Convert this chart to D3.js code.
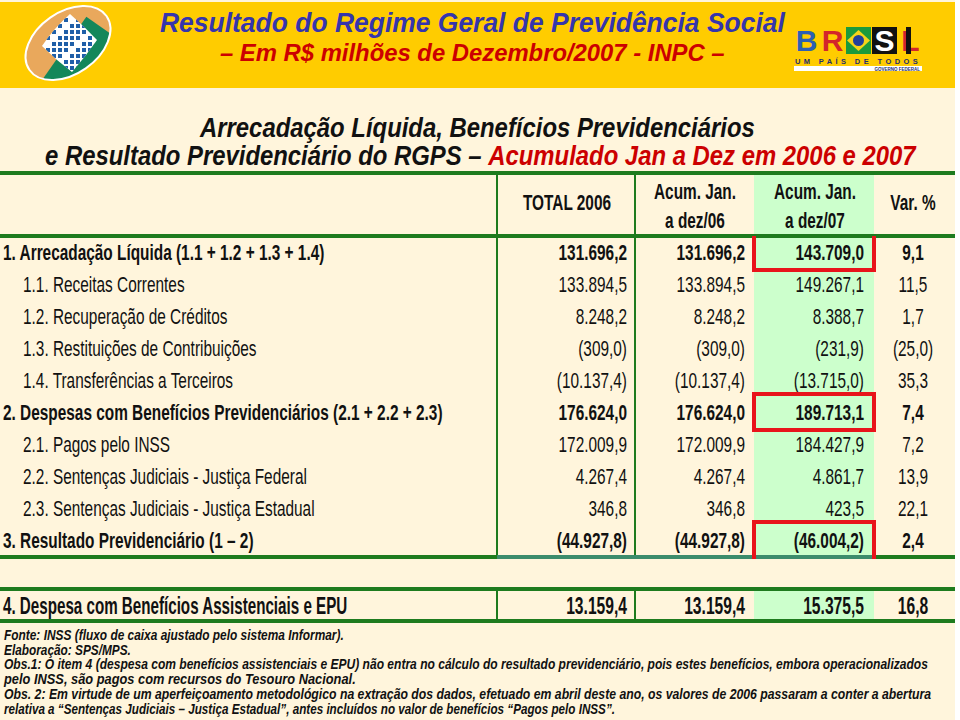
<!DOCTYPE html>
<html>
<head>
<meta charset="utf-8">
<script src="https://cdn.jsdelivr.net/npm/d3@7"></script>
<style>
body { margin: 0; background: #fff; }
svg { display: block; font-family: "Liberation Sans", Arial, sans-serif; }
</style>
</head>
<body>
<script>
var w = 960;
var h = 720;

// table data (R$ milhões de Dez/2007 - INPC)
var rowLabels = [
    "1. Arrecadação Líquida (1.1 + 1.2 + 1.3 + 1.4)",
    "1.1. Receitas Correntes",
    "1.2. Recuperação de Créditos",
    "1.3. Restituições de Contribuições",
    "1.4. Transferências a Terceiros",
    "2. Despesas com Benefícios Previdenciários (2.1 + 2.2 + 2.3)",
    "2.1. Pagos pelo INSS",
    "2.2. Sentenças Judiciais - Justiça Federal",
    "2.3. Sentenças Judiciais - Justiça Estadual",
    "3. Resultado Previdenciário (1 – 2)"
];
var rowLevel = [0, 1, 1, 1, 1, 0, 1, 1, 1, 0];
var total2006 = [131696.2, 133894.5, 8248.2, -309.0, -10137.4, 176624.0, 172009.9, 4267.4, 346.8, -44927.8];
var acum06 = [131696.2, 133894.5, 8248.2, -309.0, -10137.4, 176624.0, 172009.9, 4267.4, 346.8, -44927.8];
var acum07 = [143709.0, 149267.1, 8388.7, -231.9, -13715.0, 189713.1, 184427.9, 4861.7, 423.5, -46004.2];
var varPct = [9.1, 11.5, 1.7, -25.0, 35.3, 7.4, 7.2, 13.9, 22.1, 2.4];
var highlighted = [0, 5, 9];

var epuLabel = "4. Despesa com Benefícios Assistenciais e EPU";
var epuTotal2006 = 13159.4;
var epuAcum06 = 13159.4;
var epuAcum07 = 15375.5;
var epuVar = 16.8;

var colKeys = ["total2006", "acum06", "acum07", "var"];
var colHeaders = [["TOTAL 2006"], ["Acum. Jan.", "a dez/06"], ["Acum. Jan.", "a dez/07"], ["Var. %"]];

var footnotes = [
    "Fonte: INSS (fluxo de caixa ajustado pelo sistema Informar).",
    "Elaboração: SPS/MPS.",
    "Obs.1: O item 4 (despesa com benefícios assistenciais e EPU) não entra no cálculo do resultado previdenciário, pois estes benefícios, embora operacionalizados",
    "pelo INSS, são pagos com recursos do Tesouro Nacional.",
    "Obs. 2: Em virtude de um aperfeiçoamento metodológico na extração dos dados, efetuado em abril deste ano, os valores de 2006 passaram a conter a abertura",
    "relativa a “Sentenças Judiciais – Justiça Estadual”, antes incluídos no valor de benefícios “Pagos pelo INSS”."
];
var footWidths = [340, 127, 925, 352, 928, 612];

var green = "#1E7B1E";
var red = "#E8141B";
var sx = 0.7; // condensed look

var br = d3.formatLocale({decimal: ",", thousands: ".", grouping: [3], currency: ["R$", ""]});
var f1 = br.format(",.1f");
function fmt(v) {
    return v < 0 ? "(" + f1(-v) + ")" : f1(v);
}

var svg = d3.select("body").append("svg").attr("width", w).attr("height", h);

// backgrounds
svg.append("rect").attr("x", 0).attr("y", 0).attr("width", 955).attr("height", h).attr("fill", "#FFF5DC");
svg.append("rect").attr("x", 0).attr("y", 2).attr("width", 955).attr("height", 86).attr("fill", "#FFCC00");

// scales
var y = d3.scalePoint().domain(d3.range(rowLabels.length)).range([252, 540]);
var xCol = d3.scaleOrdinal().domain(colKeys).range([627, 745, 864, 913]);
var xHead = d3.scaleOrdinal().domain(colKeys).range([567, 695, 815, 913]);
var edges = [497, 635, 754, 874, 955];

function txt(g, x, yy, s, size, weight, anchor, scale) {
    return g.append("text")
        .attr("transform", "translate(" + x + "," + yy + ") scale(" + (scale || sx) + ",1)")
        .attr("font-size", size)
        .attr("font-weight", weight || "normal")
        .attr("text-anchor", anchor || "start")
        .attr("fill", "#111")
        .text(s);
}

// stretch a text so it spans a given width
function fit(t, x, yy, width) {
    var len = t.node().getComputedTextLength();
    t.attr("transform", "translate(" + x + "," + yy + ") scale(" + (width / len) + ",1)");
    return t;
}

// ---------- header ----------
var title = svg.append("text").attr("font-size", 28).attr("font-weight", "bold").attr("font-style", "italic")
    .attr("fill", "#3535AD").text("Resultado do Regime Geral de Previdência Social");
fit(title, 160, 32, 625);
var sub = svg.append("text").attr("font-size", 24).attr("font-weight", "bold").attr("font-style", "italic")
    .attr("fill", "#CC0000").text("– Em R$ milhões de Dezembro/2007 - INPC –");
fit(sub, 220, 61, 505);

// INSS logo
var defs = svg.append("defs");
defs.append("clipPath").attr("id", "ell")
    .append("ellipse").attr("cx", 68).attr("cy", 43).attr("rx", 47).attr("ry", 31)
    .attr("transform", "rotate(-35,68,43)");
defs.append("clipPath").attr("id", "dia")
    .append("path").attr("d", "M70,14 Q84,26 97,40 Q86,56 72,72 Q56,60 42,46 Q54,28 70,14 Z");
var logo = svg.append("g");
var lg = logo.append("g").attr("clip-path", "url(#ell)");
lg.append("rect").attr("x", 10).attr("y", 0).attr("width", 120).attr("height", 90).attr("fill", "#E9A85C");
lg.append("rect").attr("x", -20).attr("y", 43).attr("width", 120).attr("height", 90).attr("fill", "#14875A")
    .attr("transform", "rotate(-55,68,43)");
var dg = logo.append("g").attr("clip-path", "url(#dia)");
dg.append("rect").attr("x", 36).attr("y", 10).attr("width", 66).attr("height", 66).attr("fill", "#fff");
d3.range(8).forEach(function (i) {
    d3.range(9).forEach(function (j) {
        if ((i + j) % 5 === 4) return;
        dg.append("rect").attr("x", 46 + i * 6).attr("y", 18 + j * 6).attr("width", 4).attr("height", 4)
            .attr("fill", "#1F5FA8");
    });
});
logo.append("ellipse").attr("cx", 68).attr("cy", 43).attr("rx", 47).attr("ry", 31)
    .attr("transform", "rotate(-35,68,43)").attr("fill", "none").attr("stroke", "#fff").attr("stroke-width", 2);

// BRASIL logo
var bl = svg.append("g");
var letters = [
    {c: "B", fill: "#2C5FB3", bg: null},
    {c: "R", fill: "#D3262B", bg: null},
    {c: "", fill: null, bg: "#1C9A3C"},
    {c: "S", fill: "#fff", bg: "#111"},
    {c: "L", fill: "#D3262B", bg: null}
];
letters.forEach(function (d, i) {
    var x0 = 794 + i * 26;
    if (d.bg) bl.append("rect").attr("x", x0).attr("y", 27).attr("width", 25).attr("height", 27).attr("fill", d.bg);
    if (d.c) bl.append("text").attr("x", x0 + 12.5).attr("y", 51).attr("text-anchor", "middle")
        .attr("font-size", 30).attr("font-weight", "bold").attr("fill", d.fill).text(d.c);
});
bl.append("path").attr("d", "M858.5,30 L870,40.5 L858.5,51 L847,40.5 Z").attr("fill", "#F6D419");
bl.append("circle").attr("cx", 858.5).attr("cy", 40.5).attr("r", 5.5).attr("fill", "#22409A");
bl.append("rect").attr("x", 906).attr("y", 27).attr("width", 5).attr("height", 27).attr("fill", "#111");
bl.append("text").attr("x", 858).attr("y", 64).attr("text-anchor", "middle").attr("font-size", 7.5)
    .attr("font-weight", "bold").attr("letter-spacing", 3.4).attr("fill", "#1E2E6E").text("UM PAÍS DE TODOS");
bl.append("rect").attr("x", 794).attr("y", 66).attr("width", 128).attr("height", 5).attr("fill", "#fff");
bl.append("text").attr("x", 920).attr("y", 70.5).attr("text-anchor", "end").attr("font-size", 4.5)
    .attr("font-weight", "bold").attr("fill", "#1E2E6E").text("GOVERNO FEDERAL");

// ---------- section title ----------
var st1 = svg.append("text").attr("font-size", 28).attr("font-weight", "bold").attr("font-style", "italic")
    .attr("fill", "#111").text("Arrecadação Líquida, Benefícios Previdenciários");
fit(st1, 200, 137, 555);
var st2 = svg.append("text").attr("font-size", 28).attr("font-weight", "bold").attr("font-style", "italic")
    .attr("fill", "#111");
st2.append("tspan").text("e Resultado Previdenciário do RGPS – ");
st2.append("tspan").attr("fill", "#CC0000").text("Acumulado Jan a Dez em 2006 e 2007");
fit(st2, 45, 165, 870);

// ---------- table ----------
var table = svg.append("g");

// green highlighted column
table.append("rect").attr("x", edges[2]).attr("y", 173).attr("width", edges[3] - edges[2]).attr("height", 557 - 173)
    .attr("fill", "#CCFFCC");
table.append("rect").attr("x", edges[2]).attr("y", 589).attr("width", edges[3] - edges[2]).attr("height", 621 - 589)
    .attr("fill", "#CCFFCC");

// vertical rules
[edges[0], edges[1]].forEach(function (x) {
    table.append("line").attr("x1", x).attr("x2", x).attr("y1", 173).attr("y2", 557)
        .attr("stroke", green).attr("stroke-width", 2);
    table.append("line").attr("x1", x).attr("x2", x).attr("y1", 589).attr("y2", 621)
        .attr("stroke", green).attr("stroke-width", 2);
});

// column headers
colHeaders.forEach(function (lines, j) {
    var k = colKeys[j];
    if (lines.length === 1) {
        txt(table, xHead(k), 210, lines[0], 22, "bold", "middle");
    } else {
        txt(table, xHead(k), 199, lines[0], 22, "bold", "middle");
        txt(table, xHead(k), 228, lines[1], 22, "bold", "middle");
    }
});

// rows
var series = [total2006, acum06, acum07];
var rows = table.selectAll("g.row")
    .data(rowLabels)
    .enter()
    .append("g")
    .attr("class", "row");

rows.each(function (label, i) {
    var g = d3.select(this);
    var bold = rowLevel[i] === 0 ? "bold" : "normal";
    var yy = y(i) + 8;
    txt(g, rowLevel[i] === 0 ? 3 : 23, yy, label, 22, bold);
    series.forEach(function (s, j) {
        txt(g, xCol(colKeys[j]), yy, fmt(s[i]), 22, bold, "end");
    });
    txt(g, xCol("var"), yy, fmt(varPct[i]), 22, bold, "middle");
});

// row 4 (outside the result)
var y4 = 605 + 8.5;
txt(table, 3, y4, epuLabel, 23, "bold", "start", 0.66);
[epuTotal2006, epuAcum06, epuAcum07].forEach(function (v, j) {
    txt(table, xCol(colKeys[j]), y4, fmt(v), 23, "bold", "end", 0.68);
});
txt(table, xCol("var"), y4, fmt(epuVar), 23, "bold", "middle", 0.68);

// horizontal rules
[173, 236, 589, 621].forEach(function (yy) {
    table.append("line").attr("x1", 0).attr("x2", 955).attr("y1", yy).attr("y2", yy)
        .attr("stroke", green).attr("stroke-width", 4);
});
table.append("line").attr("x1", 0).attr("x2", 955).attr("y1", 557).attr("y2", 557)
    .attr("stroke", green).attr("stroke-width", 4);
table.append("line").attr("x1", edges[0]).attr("x2", edges[3]).attr("y1", 557).attr("y2", 557)
    .attr("stroke", "#3C8C6C").attr("stroke-width", 4);

// red boxes around the 2007 totals
highlighted.forEach(function (i, n) {
    var x0 = edges[2], x1 = edges[3];
    var top = y(i) - 18, bot = y(i) + 18;
    var d;
    if (n === 0) {
        top = 236;
        d = "M" + x0 + "," + top + "V" + bot + "H" + x1 + "V" + top;
    } else if (n === highlighted.length - 1) {
        bot = 559;
        d = "M" + x0 + "," + bot + "V" + top + "H" + x1 + "V" + bot;
    } else {
        d = "M" + x0 + "," + top + "V" + bot + "H" + x1 + "V" + top + "Z";
    }
    table.append("path").attr("d", d).attr("fill", "none").attr("stroke", red).attr("stroke-width", 4);
});

// ---------- footnotes ----------
var fy = d3.scalePoint().domain(d3.range(footnotes.length)).range([640, 713.5]);
footnotes.forEach(function (s, i) {
    var t = svg.append("text").attr("font-size", 14).attr("font-weight", "bold").attr("font-style", "italic")
        .attr("fill", "#111").text(s);
    fit(t, 4, fy(i), footWidths[i]);
});
</script>
</body>
</html>
